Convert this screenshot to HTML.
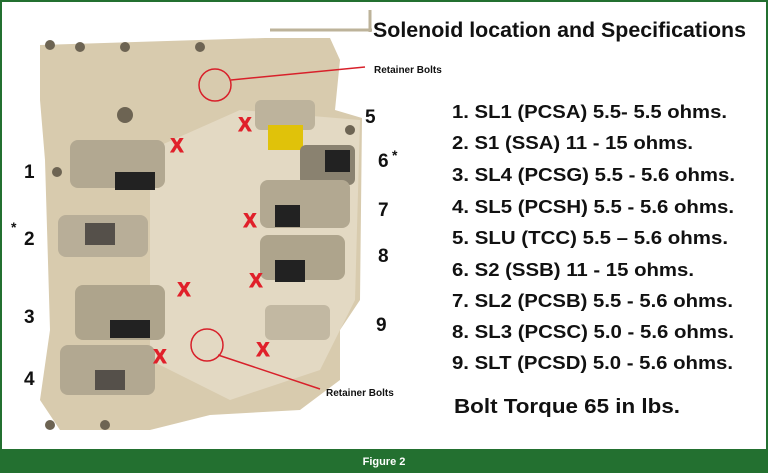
<!DOCTYPE html>
<html><head><meta charset="utf-8"><style>
html,body{margin:0;padding:0;background:#fff}
svg{display:block}
text{font-family:"Liberation Sans",Arial,sans-serif;font-weight:bold;fill:#111}
</style></head><body>
<svg width="768" height="473" viewBox="0 0 768 473" xmlns="http://www.w3.org/2000/svg">
<rect x="1" y="1" width="766" height="471" fill="#fff" stroke="#237030" stroke-width="2"/>
<rect x="0" y="449" width="768" height="24" fill="#237030"/>
<text x="384" y="465" font-size="11" text-anchor="middle" style="fill:#fff">Figure 2</text>

<path d="M40,45 L265,38 L330,38 L340,60 L335,110 L362,118 L360,300 L340,330 L340,380 L300,410 L210,415 L150,430 L60,430 L40,400 L50,330 L45,160 L40,100 Z" fill="#d8cbae"/>
<path d="M150,150 L240,110 L360,120 L355,300 L320,370 L230,400 L150,360 Z" fill="#e3d9c3"/>
<line x1="270" y1="30" x2="372" y2="30" stroke="#bdb39a" stroke-width="3"/>
<line x1="370" y1="10" x2="370" y2="32" stroke="#bdb39a" stroke-width="3"/>
<g fill="#6d6453">
<circle cx="50" cy="45" r="5"/><circle cx="80" cy="47" r="5"/><circle cx="125" cy="47" r="5"/><circle cx="200" cy="47" r="5"/><circle cx="57" cy="172" r="5"/><circle cx="350" cy="130" r="5"/><circle cx="50" cy="425" r="5"/><circle cx="105" cy="425" r="5"/><circle cx="125" cy="115" r="8"/>
</g>
<g>
<rect x="70" y="140" width="95" height="48" rx="8" fill="#b2a891"/>
<rect x="58" y="215" width="90" height="42" rx="8" fill="#b8ae98"/>
<rect x="75" y="285" width="90" height="55" rx="8" fill="#aea48c"/>
<rect x="60" y="345" width="95" height="50" rx="8" fill="#b2a891"/>
<rect x="255" y="100" width="60" height="30" rx="6" fill="#bdb39c"/>
<rect x="268" y="125" width="35" height="25" fill="#e0c20a"/>
<rect x="300" y="145" width="55" height="40" rx="6" fill="#8a8270"/>
<rect x="260" y="180" width="90" height="48" rx="8" fill="#b2a891"/>
<rect x="260" y="235" width="85" height="45" rx="8" fill="#aea48c"/>
<rect x="265" y="305" width="65" height="35" rx="6" fill="#c2b8a2"/>
</g>
<g fill="#222">
<rect x="115" y="172" width="40" height="18"/><rect x="110" y="320" width="40" height="18"/>
<rect x="325" y="150" width="25" height="22"/><rect x="275" y="205" width="25" height="22"/><rect x="275" y="260" width="30" height="22"/>
<rect x="85" y="223" width="30" height="22" fill="#55504a"/><rect x="95" y="370" width="30" height="20" fill="#55504a"/>
</g>

<g stroke="#d8202a" stroke-width="1.5" fill="none">
<circle cx="215" cy="85" r="16"/><line x1="231" y1="80" x2="365" y2="67"/>
<circle cx="207" cy="345" r="16"/><line x1="218" y1="355" x2="320" y2="389"/>
</g>
<g font-size="19" text-anchor="middle">
<text x="245" y="131" style="fill:#e0202a;stroke:#e0202a;stroke-width:1">X</text>
<text x="177" y="152" style="fill:#e0202a;stroke:#e0202a;stroke-width:1">X</text>
<text x="250" y="227" style="fill:#e0202a;stroke:#e0202a;stroke-width:1">X</text>
<text x="184" y="296" style="fill:#e0202a;stroke:#e0202a;stroke-width:1">X</text>
<text x="256" y="287" style="fill:#e0202a;stroke:#e0202a;stroke-width:1">X</text>
<text x="263" y="356" style="fill:#e0202a;stroke:#e0202a;stroke-width:1">X</text>
<text x="160" y="363" style="fill:#e0202a;stroke:#e0202a;stroke-width:1">X</text>
</g>

<text x="373" y="37" font-size="21" textLength="373" lengthAdjust="spacingAndGlyphs">Solenoid location and Specifications</text>
<text x="374" y="73" font-size="10">Retainer Bolts</text>
<text x="326" y="396" font-size="10">Retainer Bolts</text>

<g font-size="19">
<text x="24" y="178">1</text>
<text x="11" y="232" font-size="14">*</text><text x="24" y="245">2</text>
<text x="24" y="323">3</text>
<text x="24" y="385">4</text>
<text x="365" y="123">5</text>
<text x="378" y="167">6</text><text x="392" y="160" font-size="14">*</text>
<text x="378" y="216">7</text>
<text x="378" y="262">8</text>
<text x="376" y="331">9</text>
</g>

<g font-size="18">
<text x="452" y="118" textLength="275" lengthAdjust="spacingAndGlyphs">1. SL1 (PCSA) 5.5- 5.5 ohms.</text>
<text x="452" y="149" textLength="241" lengthAdjust="spacingAndGlyphs">2. S1 (SSA) 11 - 15 ohms.</text>
<text x="452" y="181" textLength="283" lengthAdjust="spacingAndGlyphs">3. SL4 (PCSG) 5.5 - 5.6 ohms.</text>
<text x="452" y="213" textLength="282" lengthAdjust="spacingAndGlyphs">4. SL5 (PCSH) 5.5 - 5.6 ohms.</text>
<text x="452" y="244" textLength="276" lengthAdjust="spacingAndGlyphs">5. SLU (TCC) 5.5 – 5.6 ohms.</text>
<text x="452" y="276" textLength="242" lengthAdjust="spacingAndGlyphs">6. S2 (SSB) 11 - 15 ohms.</text>
<text x="452" y="307" textLength="281" lengthAdjust="spacingAndGlyphs">7. SL2 (PCSB) 5.5 - 5.6 ohms.</text>
<text x="452" y="338" textLength="282" lengthAdjust="spacingAndGlyphs">8. SL3 (PCSC) 5.0 - 5.6 ohms.</text>
<text x="452" y="369" textLength="281" lengthAdjust="spacingAndGlyphs">9. SLT (PCSD) 5.0 - 5.6 ohms.</text>
</g>
<text x="454" y="413" font-size="20" textLength="226" lengthAdjust="spacingAndGlyphs">Bolt Torque 65 in lbs.</text>
</svg>
</body></html>
